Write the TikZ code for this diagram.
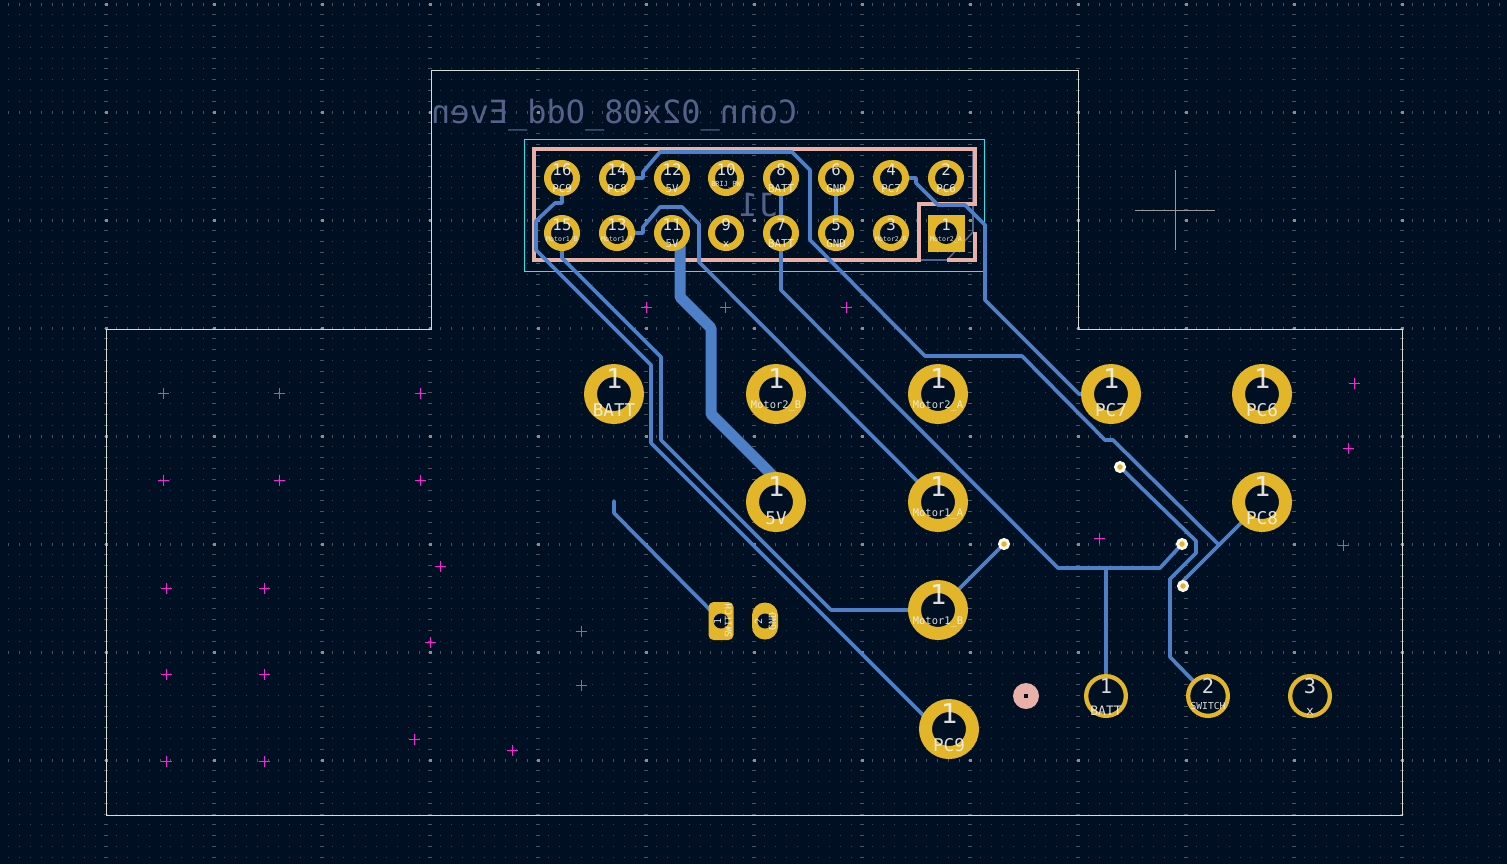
\documentclass[tikz,border=0pt]{standalone}
\usepackage{graphicx}
\usepackage{fontspec}
\usepackage{tikz}
\newfontfamily\padfont{DejaVu Sans Mono}
\definecolor{boardbg}{HTML}{001023}
\definecolor{padgold}{HTML}{E3B62A}
\definecolor{copperblue}{HTML}{4D80C6}
\definecolor{silkpink}{HTML}{E8B0A6}
\definecolor{fabgrey}{HTML}{566189}
\definecolor{yardcyan}{HTML}{26E6F0}
\definecolor{edgewhite}{HTML}{D8DAD6}
\definecolor{markpink}{HTML}{FF20E0}
\definecolor{padtext}{HTML}{F2F2EE}

\begin{document}
\begin{tikzpicture}[
    x=0.5pt, y=-0.5pt,
    griddot/.style={draw=gray!42!boardbg, line width=0.35pt, dash pattern=on 0.35pt off 5.05pt},
    gridrow/.style={draw=gray!60!boardbg, line width=1.5pt, dash pattern=on 0.35pt off 5.05pt},
    gridcol/.style={draw=gray!60!boardbg, line width=2pt, dash pattern=on 0.35pt off 5.05pt},
    trace/.style={draw=copperblue, line width=1.85pt, line join=round, line cap=round},
    fattrace/.style={draw=copperblue, line width=5.5pt, line join=round},
    silk/.style={draw=silkpink, line width=1.6pt, line join=miter},
    fab/.style={draw=fabgrey, line width=0.8pt},
    bigpad/.style={circle, draw=padgold, fill=boardbg, line width=6.5pt, minimum size=23.5pt, inner sep=0pt, outer sep=0pt},
    midpad/.style={circle, draw=padgold, fill=boardbg, line width=3.5pt, minimum size=14.5pt, inner sep=0pt, outer sep=0pt},
    thinpad/.style={circle, draw=padgold, fill=boardbg, line width=2.15pt, minimum size=19.85pt, inner sep=0pt, outer sep=0pt},
    holedot/.style={circle, fill=boardbg, minimum size=#1, inner sep=0pt, outer sep=0pt},
    via/.style={circle, draw=white!92!padgold, fill=padgold, line width=1.5pt, minimum size=4.5pt, inner sep=0pt, outer sep=0pt},
    padtxt/.style={text=padtext, text opacity=0.9, anchor=base, inner sep=0pt, font=\padfont\fontsize{#1}{#1}\selectfont},
    fabtxt/.style={text=fabgrey, anchor=base, inner sep=0pt, font=\padfont\fontsize{16}{16}\selectfont}
]

    % Background and grid
    \fill[boardbg] (0,0) rectangle (1507,864);
    \useasboundingbox (0,0) rectangle (1507,864);
    \foreach \y in {4,14.8,...,864}
        \draw[griddot] (8.3,\y) -- (1507,\y);
    \foreach \y in {4,112,220,328,436,544,652,760}
        \draw[gridrow] (8.3,\y) -- (1507,\y);
    \foreach \x in {106,214,...,1402}
        \draw[gridcol] (\x,3.5) -- (\x,864);
    \foreach \y in {4,112,220,328,436,544,652,760}
        \foreach \x in {106,214,...,1402}
            \fill[gray!90!white] (\x-1.5,\y-1.5) rectangle (\x+1.5,\y+1.5);

    % Board outline and courtyard
    \draw[edgewhite, line width=0.5pt] (431,70) -- (1078,70) -- (1078,329) -- (1402,329) -- (1402,815)
        -- (106,815) -- (106,329) -- (431,329) -- cycle;
    \draw[yardcyan, line width=0.5pt] (524,139) rectangle (984,271);

    % Back side texts and fab outline
    \node[fabtxt] (conntext) at (614,123) {\reflectbox{Conn\_02x08\_Odd\_Even}};
    \node[fabtxt] (reftext) at (758,216) {\reflectbox{J1}};
    \draw[fab] (919,260) -- (947,260) -- (973,232) -- (973,150);

    % Silkscreen
    \draw[silk] (919,260) -- (534,260) -- (534,149) -- (975,149) -- (975,204) -- (919,204) -- cycle;
    \draw[silk] (947,260) -- (975,260) -- (975,232);

    % Pad positions
    \foreach \tag/\x/\y in {J16/562/178, J14/617/178, J12/672/178, J10/726/178, J8/781/178, J6/836/178, J4/891/178, J2/946/178,
                            J15/562/233, J13/617/233, J11/672/233, J9/726/233, J7/781/233, J5/836/233, J3/891/233, J1/946/233,
                            BATT/614/394, MotorTwoB/776/394, MotorTwoA/938/394, PCseven/1111/394, PCsix/1262/394,
                            FiveV/776/502, MotorOneA/938/502, PCeight/1262/502, MotorOneB/938/610, PCnine/949/729,
                            SWone/1106/696, SWtwo/1208/696, SWthree/1310/696, SMDone/721/621, SMDtwo/765/621,
                            viaA/1120/467, viaB/1182/544, viaC/1004/544, viaD/1183/586}
        \coordinate (\tag) at (\x,\y);

    % Traces
    \draw[trace] (J14) -- (643,178) -- (643,172) -- (660,152) -- (792,152) -- (810,170) -- (810,240)
        -- (925,356) -- (1022,356) -- (1105,440) -- (1113,440) -- (1219,545);
    \draw[trace] (PCeight) -- (1183,581) -- (viaD);
    \draw[trace] (J13) -- (643,233) -- (643,227) -- (660,207) -- (682,207) -- (699,224) -- (699,262) -- (MotorOneA);
    \draw[trace] (J8) -- (J7);
    \draw[trace] (J6) -- (J5);
    \draw[trace] (J7) -- (781,290) -- (1058,568) -- (1160,568) -- (viaB);
    \draw[trace] (1106,568) -- (SWone);
    \draw[trace] (J4) -- (916,178) -- (916,183) -- (938,205) -- (965,205) -- (985,225) -- (985,300) -- (1079,394) -- (PCseven);
    \draw[trace] (J16) -- (562,203) -- (555,203) -- (536,221) -- (536,250) -- (651,365) -- (651,443) -- (926,718) -- (PCnine);
    \draw[trace] (J15) -- (562,258) -- (661,357) -- (661,440) -- (831,610) -- (MotorOneB);
    \draw[trace] (MotorOneB) -- (viaC);
    \draw[trace] (viaA) -- (1196,541) -- (1196,553) -- (1170,579) -- (1170,657) -- (SWtwo);
    \draw[trace] (614,501) -- (614,513) -- (SMDone);
    \draw[fattrace] (680,240) -- (680,297) -- (711,328) -- (711,414) -- (776,479);

    % Header pads
    \foreach \tag in {J16,J14,J12,J10,J8,J6,J4,J2,J15,J13,J11,J9,J7,J5,J3}
        \node[midpad] (pad\tag) at (\tag) {};
    \node[rectangle, fill=padgold, minimum size=18.5pt, inner sep=0pt] (padJ1) at (J1) {};
    \node[holedot=11pt] (holeJ1) at (J1) {};

    % Connection pads
    \foreach \tag in {BATT,MotorTwoB,MotorTwoA,PCseven,PCsix,FiveV,MotorOneA,PCeight,MotorOneB,PCnine}
        \node[bigpad] (pad\tag) at (\tag) {};
    \foreach \tag in {SWone,SWtwo,SWthree}
        \node[thinpad] (pad\tag) at (\tag) {};
    \foreach \tag in {viaA,viaB,viaC,viaD}
        \node[via] (pad\tag) at (\tag) {};

    % Small pads
    \node[rectangle, rounded corners=2.5pt, fill=padgold, minimum width=12.5pt, minimum height=19pt, inner sep=0pt] (padSMDone) at (SMDone) {};
    \node[rectangle, rounded corners=6.4pt, fill=padgold, minimum width=13pt, minimum height=18.5pt, inner sep=0pt] (padSMDtwo) at (SMDtwo) {};
    \node[holedot=7.5pt] (holeSMDone) at (SMDone) {};
    \node[holedot=7.5pt] (holeSMDtwo) at (SMDtwo) {};

    % Mounting hole
    \node[circle, fill=silkpink, minimum size=13pt, inner sep=0pt] (mount) at (1026,696) {};
    \node[rectangle, fill=boardbg, minimum size=2pt, inner sep=0pt] (mounthole) at (1026,696) {};

    % Header labels
    \foreach \tag/\x/\y/\num/\name in {a/562/178/16/PC9, b/617/178/14/PC8, c/672/178/12/5V, d/781/178/8/BATT, e/836/178/6/GND, f/891/178/4/PC7, g/946/178/2/PC6,
                                        h/672/233/11/5V, i/726/233/9/x, j/781/233/7/BATT, k/836/233/5/GND} {
        \node[padtxt=7.9] (num\tag) at (\x,\y-3) {\num};
        \node[padtxt=5.4] (name\tag) at (\x,\y+14) {\name};
    }
    \node[padtxt=7.9] (numm) at (726,175) {10};
    \node[padtxt=3.5] (namem) at (726,186) {BRIJ\_PW};
    \foreach \tag/\x/\num/\name in {n/562/15/Motor1\_B, o/617/13/Motor1\_A, p/891/3/Motor2\_B, q/946/1/Motor2\_A} {
        \node[padtxt=7.9] (num\tag) at (\x,230) {\num};
        \node[padtxt=3.3] (name\tag) at (\x,241.5) {\name};
    }

    % Big pad labels
    \foreach \tag/\x/\y/\name in {r/614/394/BATT, s/1111/394/PC7, t/1262/394/PC6, u/776/502/5V, v/1262/502/PC8, w/949/729/PC9} {
        \node[padtxt=13.7] (num\tag) at (\x,\y-6) {1};
        \node[padtxt=8.8] (name\tag) at (\x,\y+22) {\name};
    }
    \foreach \tag/\x/\y/\name in {aa/776/394/Motor2\_B, ab/938/394/Motor2\_A, ac/938/502/Motor1\_A, ad/938/610/Motor1\_B} {
        \node[padtxt=13.7] (num\tag) at (\x,\y-6) {1};
        \node[padtxt=5.2] (name\tag) at (\x,\y+14) {\name};
    }

    % Switch labels
    \node[padtxt=10.2] (numSWone) at (1106,693.5) {1};
    \node[padtxt=6.5] (nameSWone) at (1106,715) {BATT};
    \node[padtxt=10.2] (numSWtwo) at (1208,693.5) {2};
    \node[padtxt=4.8] (nameSWtwo) at (1208,709.5) {SWITCH};
    \node[padtxt=10.2] (numSWthree) at (1310,693.5) {3};
    \node[padtxt=6.5] (nameSWthree) at (1310,715) {x};

    % Small pad labels
    \node[padtxt=5, rotate=90] (numSMDone) at (721,621) {1};
    \node[padtxt=4.6, rotate=90] (nameSMDone) at (731.5,621) {SWITCH};
    \node[padtxt=5, rotate=90] (numSMDtwo) at (762,621) {2};
    \node[padtxt=5, rotate=90] (nameSMDtwo) at (776,621) {GND};

    % Placement marks
    \foreach \x/\y in {163/393, 279/393, 420/393, 163/480, 279/480, 420/480, 440/566, 166/588, 264/588,
                       581/631, 430/642, 166/674, 264/674, 581/685, 414/739, 512/750, 166/761, 264/761,
                       646/307, 725/307, 846/307, 1354/383, 1348/448, 1343/545, 1099/538}
        \draw[markpink, line width=0.5pt] (\x-5.5,\y) -- (\x+5.5,\y) (\x,\y-5.5) -- (\x,\y+5.5);
    \draw[gray!80!white, line width=0.5pt] (1135,210) -- (1215,210) (1175,170) -- (1175,250);

\end{tikzpicture}
\end{document}
